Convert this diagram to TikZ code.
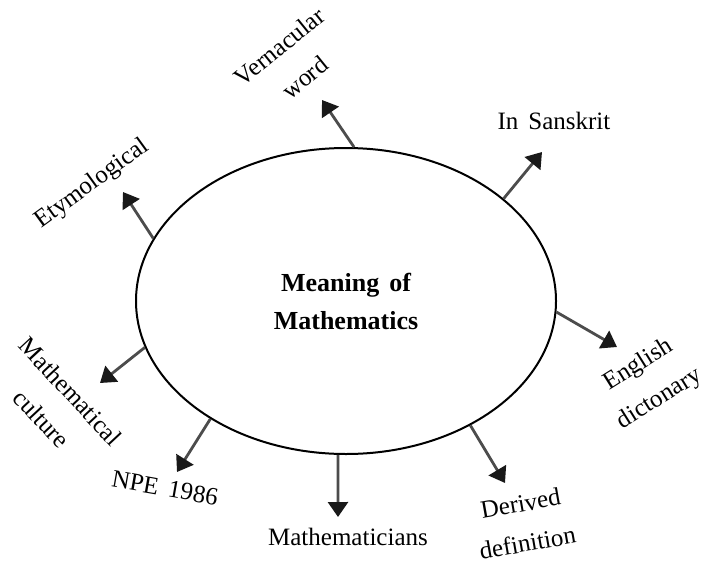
\documentclass[tikz,border=0pt]{standalone}
\usepackage{fontspec}
\setmainfont{Liberation Serif}
\usetikzlibrary{shapes.geometric, arrows.meta, positioning}

\begin{document}
\begin{tikzpicture}[
  x=0.5pt, y=-0.5pt,
  core/.style={ellipse, draw=black, line width=1pt, minimum width=210pt, minimum height=153pt, inner sep=0pt, align=center, font=\fontsize{13}{19}\selectfont\bfseries},
  term/.style={align=center, inner sep=0pt, font=\fontsize{12.5}{20}\selectfont},
  arrow/.style={-{Triangle[length=7.5pt, width=10pt, color=black!90]}, line width=1.4pt, draw=black!70}
]
\useasboundingbox (0,0) rectangle (706,562);

\node[core] (core) at (346,301) {Meaning\hspace{5pt}of\\Mathematics};

% labels round the ellipse
\node[term, rotate=39] (vern) at (292,62) {Vernacular\\word};
\node[term, rotate=36] (etym) at (92,184) {Etymological};
\node[term] (sansk) at (554,121) {In\hspace{5pt}Sanskrit};
\node[term, rotate=32] (engl) at (649,382) {English\\dictonary};
\node[term, rotate=10] (deriv) at (524,523) {Derived\\definition};
\node[term] (maths) at (348,537) {Mathematicians};
\node[term, rotate=-10] (npe) at (165,488) {NPE\hspace{5pt}1986};
\node[term, rotate=-47] (cult) at (56,405) {Mathematical\\culture};

% arrow tips
\coordinate (tvern) at (322,100);
\coordinate (tetym) at (123,192);
\coordinate (tsansk) at (542,152);
\coordinate (tengl) at (617,347);
\coordinate (tderiv) at (505,483);
\coordinate (tmaths) at (338,517);
\coordinate (tnpe) at (177,472);
\coordinate (tcult) at (100,383);

\draw[arrow] (core.87) -- (tvern);
\draw[arrow] (core.162) -- (tetym);
\draw[arrow] (core.33) -- (tsansk);
\draw[arrow] (core.-3) -- (tengl);
\draw[arrow] (core.-45) -- (tderiv);
\draw[arrow] (core.-93) -- (tmaths);
\draw[arrow] (core.221) -- (tnpe);
\draw[arrow] (core.193) -- (tcult);

\end{tikzpicture}
\end{document}
